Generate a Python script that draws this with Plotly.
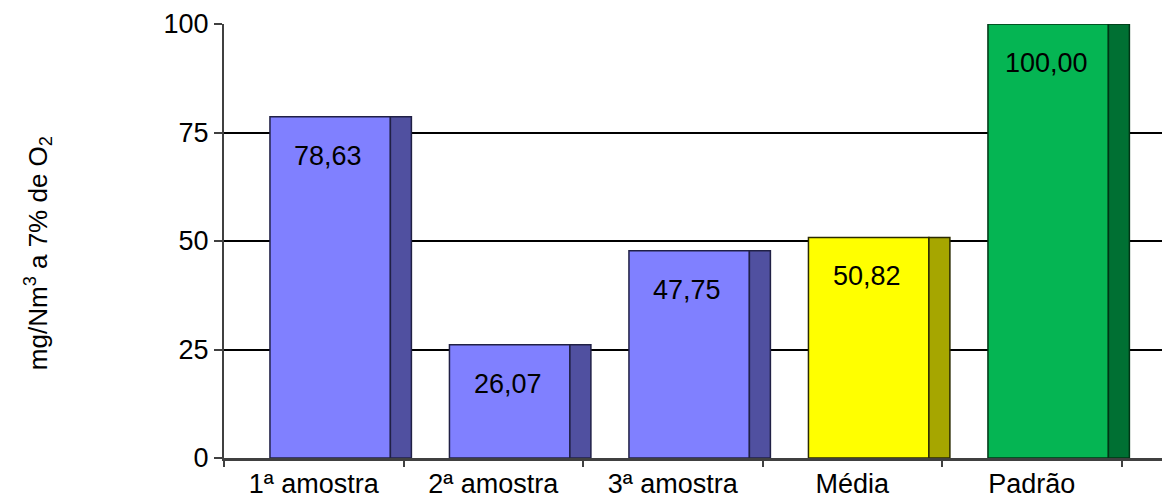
import plotly.graph_objects as go

categories = ["1ª amostra", "2ª amostra", "3ª amostra", "Média", "Padrão"]
values = [78.63, 26.07, 47.75, 50.82, 100.00]
value_labels = ["78,63", "26,07", "47,75", "50,82", "100,00"]
y_ticks = [0, 25, 50, 75, 100]

front_colors = ["#8080FF", "#8080FF", "#8080FF", "#FFFF00", "#05B553"]
side_colors = ["#5050A0", "#5050A0", "#5050A0", "#A6A600", "#007033"]
line_colors = ["#202045", "#202045", "#202045", "#2a2a00", "#003515"]

xs = list(range(len(categories)))
FONT = "Liberation Sans, Arial, sans-serif"
FS = 27

front_w = 0.671
front_off = -0.244
side_w = 0.117
side_off = front_off + front_w

fig = go.Figure()
fig.add_trace(go.Bar(
    x=xs, y=values, width=front_w, offset=front_off,
    marker=dict(color=front_colors, line=dict(color=line_colors, width=1.5)),
    hoverinfo="skip", showlegend=False,
))
fig.add_trace(go.Bar(
    x=xs, y=values, width=side_w, offset=side_off,
    marker=dict(color=side_colors, line=dict(color=line_colors, width=1.5)),
    hoverinfo="skip", showlegend=False,
))

for x, v, t in zip(xs, values, value_labels):
    fig.add_annotation(x=x + front_off + front_w / 2, y=v, text=t, showarrow=False,
                       yshift=-39, xshift=-2, font=dict(family=FONT, size=FS, color="black"))

fig.add_annotation(xref="paper", yref="paper", x=(38 - 224) / 938, y=0.472,
                   text="mg/Nm<sup>3</sup> a 7% de O<sub>2</sub>", textangle=-90,
                   showarrow=False, xanchor="center", yanchor="middle",
                   font=dict(family=FONT, size=26, color="black"))

fig.update_layout(
    width=1162, height=499,
    margin=dict(l=224, r=0, t=24, b=41),
    paper_bgcolor="white", plot_bgcolor="white",
    barmode="overlay",
    font=dict(family=FONT, size=FS, color="black"),
    xaxis=dict(
        range=[-0.5, (1162 - 224) / 179.5 - 0.5],
        tickvals=xs, ticktext=categories, ticks="",
        showline=True, linecolor="#404040", linewidth=3,
        showgrid=False, zeroline=False,
        tickfont=dict(family=FONT, size=FS, color="black"),
        minor=dict(ticks="outside", ticklen=6, tickwidth=1.5, tickcolor="#404040",
                   tick0=-0.5, dtick=1, showgrid=False),
    ),
    yaxis=dict(
        range=[0, 100], tickvals=y_ticks, ticks="outside", ticklen=8,
        tickcolor="#404040", tickwidth=1.5,
        showline=True, linecolor="#404040", linewidth=2,
        showgrid=True, gridcolor="black", gridwidth=2, zeroline=False,
        tickfont=dict(family=FONT, size=FS, color="black"),
    ),
)

fig.write_html("out.html")
